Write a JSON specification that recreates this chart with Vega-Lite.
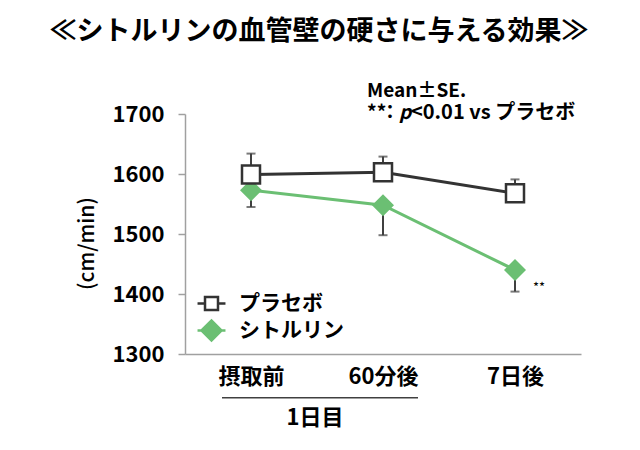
{
  "$schema": "https://vega.github.io/schema/vega-lite/v6.json",
  "width": 396,
  "height": 240,
  "autosize": "none",
  "padding": {"left": 185, "top": 114, "right": 59, "bottom": 96},
  "config": {"view": {"stroke": null}, "font": "Noto Sans CJK JP"},
  "title": {"text": "≪シトルリンの血管壁の硬さに与える効果≫", "fontSize": 27, "fontWeight": "bold", "color": "#000000", "anchor": "middle", "frame": "group", "dx": -64, "offset": 9, "baseline": "bottom"},
  "datasets": {
    "main": [
      {"time": "摂取前", "group": "プラセボ", "mean": 1599, "bound": 1634},
      {"time": "60分後", "group": "プラセボ", "mean": 1603, "bound": 1629},
      {"time": "7日後", "group": "プラセボ", "mean": 1568, "bound": 1591},
      {"time": "摂取前", "group": "シトルリン", "mean": 1573, "bound": 1545},
      {"time": "60分後", "group": "シトルリン", "mean": 1548, "bound": 1498},
      {"time": "7日後", "group": "シトルリン", "mean": 1440, "bound": 1404}
    ]
  },
  "data": {"name": "main"},
  "encoding": {
    "x": {"field": "time", "type": "nominal", "sort": ["摂取前", "60分後", "7日後"], "scale": {"type": "point", "padding": 0.5},
      "axis": {"title": null, "ticks": false, "labelAngle": 0, "labelFontSize": 22, "labelFontWeight": "bold", "labelColor": "#000000", "labelPadding": 12, "domainColor": "#a0a0a0", "domainWidth": 1.5}}
  },
  "layer": [
    {
      "mark": {"type": "rule", "color": "#404040", "strokeWidth": 2},
      "encoding": {
        "y": {"field": "mean", "type": "quantitative", "title": "(cm/min)", "scale": {"domain": [1300, 1700], "nice": false, "zero": false},
          "axis": {"values": [1300, 1400, 1500, 1600, 1700], "format": "d", "grid": false, "domainColor": "#a0a0a0", "domainWidth": 1.5, "tickColor": "#a0a0a0", "tickWidth": 1.5, "tickSize": 7, "labelFontSize": 22, "labelFontWeight": "bold", "labelColor": "#000000", "labelPadding": 14, "titleFontSize": 21, "titleFontWeight": 500, "titleColor": "#000000", "titleX": -98, "titleY": 129, "titleAngle": -90, "titleAlign": "center", "titleBaseline": "middle"}},
        "y2": {"field": "bound"}
      }
    },
    {
      "mark": {"type": "tick", "color": "#404040", "size": 9, "thickness": 2, "orient": "horizontal"},
      "encoding": {"y": {"field": "bound", "type": "quantitative", "title": "(cm/min)"}}
    },
    {
      "mark": {"type": "point", "opacity": 0, "size": 0},
      "encoding": {
        "y": {"field": "mean", "type": "quantitative", "title": "(cm/min)"},
        "fill": {"field": "group", "type": "nominal", "scale": {"domain": ["プラセボ", "シトルリン"], "range": ["#ffffff", "#6bbf73"]}, "legend": {"orient": "none", "legendX": 14, "legendY": 177, "title": null, "padding": 0, "labelFontSize": 21, "labelFontWeight": "bold", "labelColor": "#000000", "symbolSize": 484, "symbolStrokeWidth": 2.5, "symbolOpacity": 1, "labelOffset": 15, "rowPadding": 0}},
        "stroke": {"field": "group", "type": "nominal", "scale": {"domain": ["プラセボ", "シトルリン"], "range": ["#333333", "#6bbf73"]}, "legend": {"orient": "none", "legendX": 14, "legendY": 177, "title": null, "padding": 0, "labelFontSize": 21, "labelFontWeight": "bold", "labelColor": "#000000", "symbolSize": 484, "symbolStrokeWidth": 2.5, "symbolOpacity": 1, "labelOffset": 15, "rowPadding": 0}},
        "shape": {"field": "group", "type": "nominal", "scale": {"domain": ["プラセボ", "シトルリン"], "range": ["M-1.27,0H-0.59M-0.59,-0.59H0.59V0.59H-0.59ZM0.59,0H1.27", "M-1.27,0H-0.91M-0.91,0L0,-0.91L0.91,0L0,0.91ZM0.91,0H1.27"]}, "legend": {"orient": "none", "legendX": 14, "legendY": 177, "title": null, "padding": 0, "labelFontSize": 21, "labelFontWeight": "bold", "labelColor": "#000000", "symbolSize": 484, "symbolStrokeWidth": 2.5, "symbolOpacity": 1, "labelOffset": 15, "rowPadding": 0}}
      }
    },
    {
      "transform": [{"filter": "datum.group === 'シトルリン'"}],
      "mark": {"type": "line", "color": "#6bbf73", "strokeWidth": 3},
      "encoding": {"y": {"field": "mean", "type": "quantitative", "title": "(cm/min)"}}
    },
    {
      "transform": [{"filter": "datum.group === 'シトルリン'"}],
      "mark": {"type": "point", "shape": "diamond", "filled": true, "color": "#6bbf73", "opacity": 1, "size": 484},
      "encoding": {"y": {"field": "mean", "type": "quantitative", "title": "(cm/min)"}}
    },
    {
      "transform": [{"filter": "datum.group === 'プラセボ'"}],
      "mark": {"type": "line", "color": "#333333", "strokeWidth": 3},
      "encoding": {"y": {"field": "mean", "type": "quantitative", "title": "(cm/min)"}}
    },
    {
      "transform": [{"filter": "datum.group === 'プラセボ'"}],
      "mark": {"type": "point", "shape": "square", "filled": true, "fill": "#ffffff", "stroke": "#333333", "opacity": 1, "size": 324, "strokeWidth": 2.5},
      "encoding": {"y": {"field": "mean", "type": "quantitative", "title": "(cm/min)"}}
    },
    {
      "data": {"values": [{"time": "7日後", "val": 1410, "label": "**"}]},
      "mark": {"type": "text", "xOffset": 24, "fontSize": 13, "color": "#000000", "align": "center", "baseline": "middle"},
      "encoding": {"y": {"field": "val", "type": "quantitative", "title": "(cm/min)"}, "text": {"field": "label"}}
    },
    {
      "data": {"values": [{"time": "60分後", "val": 1739, "label": "Mean±SE."}]},
      "mark": {"type": "text", "xOffset": -16, "fontSize": 19, "fontWeight": "bold", "color": "#000000", "align": "left", "baseline": "middle"},
      "encoding": {"y": {"field": "val", "type": "quantitative", "title": "(cm/min)"}, "text": {"field": "label"}}
    },
    {
      "data": {"values": [{"time": "60分後", "val": 1701, "label": "**"}]},
      "mark": {"type": "text", "xOffset": -16, "fontSize": 19, "fontWeight": "bold", "color": "#000000", "align": "left", "baseline": "middle"},
      "encoding": {"y": {"field": "val", "type": "quantitative", "title": "(cm/min)"}, "text": {"field": "label"}}
    },
    {
      "data": {"values": [{"time": "60分後", "val": 1701, "label": "："}]},
      "mark": {"type": "text", "xOffset": 7, "fontSize": 19, "fontWeight": "bold", "color": "#000000", "align": "center", "baseline": "middle"},
      "encoding": {"y": {"field": "val", "type": "quantitative", "title": "(cm/min)"}, "text": {"field": "label"}}
    },
    {
      "data": {"values": [{"time": "60分後", "val": 1701, "label": "p"}]},
      "mark": {"type": "text", "xOffset": 16, "fontSize": 19, "fontWeight": "bold", "fontStyle": "italic", "color": "#000000", "align": "left", "baseline": "middle"},
      "encoding": {"y": {"field": "val", "type": "quantitative", "title": "(cm/min)"}, "text": {"field": "label"}}
    },
    {
      "data": {"values": [{"time": "60分後", "val": 1701, "label": "<0.01 vs プラセボ"}]},
      "mark": {"type": "text", "xOffset": 28, "fontSize": 20, "fontWeight": "bold", "color": "#000000", "align": "left", "baseline": "middle"},
      "encoding": {"y": {"field": "val", "type": "quantitative", "title": "(cm/min)"}, "text": {"field": "label"}}
    },
    {
      "data": {"values": [{"time": "摂取前", "time2": "60分後", "val": 1227}]},
      "mark": {"type": "rule", "color": "#404040", "strokeWidth": 1.5, "xOffset": -29, "x2Offset": 35},
      "encoding": {"y": {"field": "val", "type": "quantitative", "title": "(cm/min)"}, "x2": {"field": "time2"}}
    },
    {
      "data": {"values": [{"time": "摂取前", "val": 1193, "label": "1日目"}]},
      "mark": {"type": "text", "xOffset": 64, "fontSize": 22, "fontWeight": "bold", "color": "#000000", "align": "center", "baseline": "middle"},
      "encoding": {"y": {"field": "val", "type": "quantitative", "title": "(cm/min)"}, "text": {"field": "label"}}
    }
  ]
}
